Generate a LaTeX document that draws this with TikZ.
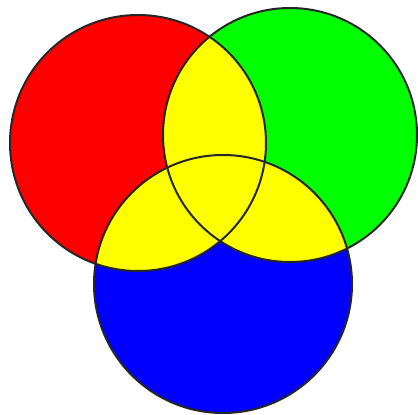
\documentclass[tikz,border=0pt]{standalone}
\usepackage{xcolor}
\definecolor{rosso}{RGB}{255, 0, 0}
\definecolor{verde}{RGB}{0, 255, 0}
\definecolor{blu}{RGB}{0, 0, 255}
\definecolor{giallo}{RGB}{255, 255, 0}
\usepackage{tikz}

\begin{document}
\begin{tikzpicture}[
  x=1pt, y=-1pt,
  rim/.style={draw=black!85, line width=2pt},
  overlap/.style={fill=giallo}
]
\useasboundingbox (0,0) rectangle (418,415);
\coordinate (cr) at (138, 143);
\coordinate (cg) at (290, 135);
\coordinate (cb) at (223, 284);

\fill[rosso] (cr) circle (128);
\fill[verde] (cg) circle (127);
\fill[blu] (cb) circle (129);

\begin{scope}
  \clip (cr) circle (128);
  \fill[overlap] (cg) circle (127);
  \fill[overlap] (cb) circle (129);
\end{scope}
\begin{scope}
  \clip (cg) circle (127);
  \fill[overlap] (cb) circle (129);
\end{scope}

\draw[rim] (cr) circle (128);
\draw[rim] (cg) circle (127);
\draw[rim] (cb) circle (129);
\end{tikzpicture}
\end{document}
